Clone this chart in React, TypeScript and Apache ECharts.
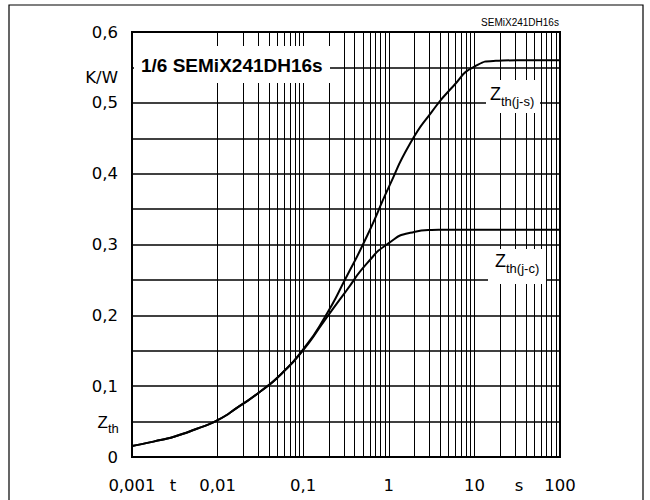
import React, { useEffect, useRef } from "react";
import * as echarts from "echarts";

// time axis (s), quarter-decade steps
const times = [0.001, 0.00178, 0.00316, 0.00562, 0.01, 0.0178, 0.0316, 0.0562, 0.1, 0.178, 0.316, 0.562, 1, 1.78, 3.16, 5.62, 10, 17.8, 31.6, 56.2, 100];
// Zth(j-s) K/W
const zthJs = [0.0155, 0.0217, 0.029, 0.0395, 0.052, 0.0715, 0.0925, 0.118, 0.152, 0.197, 0.253, 0.313, 0.381, 0.443, 0.487, 0.523, 0.551, 0.5593, 0.56, 0.56, 0.56];
// Zth(j-c) K/W
const zthJc = [0.0155, 0.0217, 0.029, 0.0395, 0.052, 0.0715, 0.0925, 0.118, 0.151, 0.193, 0.234, 0.274, 0.302, 0.3165, 0.3205, 0.321, 0.321, 0.321, 0.321, 0.321, 0.321];

const decades = [0.001, 0.01, 0.1, 1, 10, 100];
const mantissas = [1, 2, 3, 4, 5, 6, 7, 8, 9];

const fmtX = (v: number) => {
  const e = Math.round(Math.log10(v));
  if (e < 0) return "0," + "0".repeat(-e - 1) + "1";
  return "1" + "0".repeat(e);
};
const fmtY = (v: number) => {
  const k = Math.round(v * 100);
  if (k % 10 !== 0) return "";
  if (k === 0) return "0";
  return (k / 100).toFixed(1).replace(".", ",");
};

export default function App() {
  const ref = useRef<HTMLDivElement>(null);
  useEffect(() => {
    if (!ref.current) return;
    const chart = echarts.init(ref.current, undefined, { renderer: "svg" });
    const gridX: number[] = [];
    decades.slice(0, -1).forEach((d) => {
      mantissas.forEach((m) => {
        const v = parseFloat((d * m).toPrecision(6));
        if (v > 0.001 && v < 100) gridX.push(v);
      });
    });
    const tickFont = "DejaVu Sans";
    const sansFont = "Liberation Sans";
    const curve = (name: string, vals: number[]) => ({
      name,
      type: "line",
      data: times.map((t, i) => [t, vals[i]]),
      smooth: 0.6,
      showSymbol: false,
      z: 5,
      lineStyle: { color: "#000", width: 2 },
    });
    chart.setOption({
      animation: false,
      backgroundColor: "#fff",
      grid: {
        left: 132,
        right: 90,
        top: 32,
        bottom: 43,
        show: true,
        borderColor: "#000",
        borderWidth: 2,
        backgroundColor: "transparent",
        z: 3,
      },
      xAxis: {
        type: "log",
        logBase: 10,
        min: 0.001,
        max: 100,
        axisLine: { show: false },
        axisTick: { show: false },
        splitLine: { show: false },
        axisLabel: {
          formatter: fmtX,
          color: "#000",
          fontFamily: tickFont,
          fontSize: 16.5,
          margin: 20,
        },
      },
      yAxis: {
        type: "value",
        min: 0,
        max: 0.6,
        interval: 0.05,
        axisLine: { show: false },
        axisTick: { show: false },
        splitLine: { show: true, lineStyle: { color: "#000", width: 1.5 } },
        axisLabel: {
          formatter: fmtY,
          color: "#000",
          fontFamily: tickFont,
          fontSize: 16.5,
          margin: 14,
        },
      },
      series: [
        {
          type: "line",
          data: [],
          z: 1,
          silent: true,
          markLine: {
            silent: true,
            symbol: ["none", "none"],
            label: { show: false },
            emphasis: { disabled: true },
            lineStyle: { color: "#000", width: 1, type: "solid" },
            data: gridX.map((v) => ({ xAxis: v })),
          },
        },
        curve("Zth(j-s)", zthJs),
        curve("Zth(j-c)", zthJc),
      ],
      graphic: [
        {
          type: "rect",
          z: 100,
          shape: { x: 9, y: 5, width: 634, height: 520 },
          style: { fill: "none", stroke: "#000", lineWidth: 1.2 },
        },
        {
          type: "text",
          z: 100,
          x: 520,
          y: 22,
          style: { text: "SEMiX241DH16s", font: `10px "${sansFont}"`, fill: "#000", align: "center", verticalAlign: "middle" },
        },
        {
          type: "rect",
          z: 100,
          shape: { x: 134, y: 46, width: 196, height: 37 },
          style: { fill: "#fff" },
        },
        {
          type: "text",
          z: 101,
          x: 141,
          y: 65,
          style: { text: "1/6 SEMiX241DH16s", font: `bold 19px "${sansFont}"`, fill: "#000", align: "left", verticalAlign: "middle" },
        },
        {
          type: "text",
          z: 100,
          x: 118,
          y: 77,
          style: { text: "K/W", font: `16.5px "${tickFont}"`, fill: "#000", align: "right", verticalAlign: "middle" },
        },
        {
          type: "text",
          z: 100,
          x: 108,
          y: 422,
          style: { text: "Z", font: `17px "${sansFont}"`, fill: "#000", align: "right", verticalAlign: "middle" },
        },
        {
          type: "text",
          z: 100,
          x: 108,
          y: 428,
          style: { text: "th", font: `13px "${sansFont}"`, fill: "#000", align: "left", verticalAlign: "middle" },
        },
        {
          type: "rect",
          z: 100,
          shape: { x: 486, y: 80, width: 54, height: 33 },
          style: { fill: "#fff" },
        },
        {
          type: "text",
          z: 101,
          x: 490,
          y: 94,
          style: { text: "Z", font: `18px "${sansFont}"`, fill: "#000", align: "left", verticalAlign: "middle" },
        },
        {
          type: "text",
          z: 101,
          x: 501,
          y: 101,
          style: { text: "th(j-s)", font: `13px "${sansFont}"`, fill: "#000", align: "left", verticalAlign: "middle" },
        },
        {
          type: "rect",
          z: 100,
          shape: { x: 488, y: 249, width: 58, height: 35 },
          style: { fill: "#fff" },
        },
        {
          type: "text",
          z: 101,
          x: 495,
          y: 261,
          style: { text: "Z", font: `18px "${sansFont}"`, fill: "#000", align: "left", verticalAlign: "middle" },
        },
        {
          type: "text",
          z: 101,
          x: 506,
          y: 268,
          style: { text: "th(j-c)", font: `13px "${sansFont}"`, fill: "#000", align: "left", verticalAlign: "middle" },
        },
        {
          type: "text",
          z: 100,
          x: 173,
          y: 485,
          style: { text: "t", font: `16.5px "${tickFont}"`, fill: "#000", align: "center", verticalAlign: "middle" },
        },
        {
          type: "text",
          z: 100,
          x: 519,
          y: 485,
          style: { text: "s", font: `16.5px "${tickFont}"`, fill: "#000", align: "center", verticalAlign: "middle" },
        },
      ],
    });
    return () => chart.dispose();
  }, []);
  return <div ref={ref} style={{ position: "fixed", left: 0, top: 0, width: 650, height: 500 }} />;
}
